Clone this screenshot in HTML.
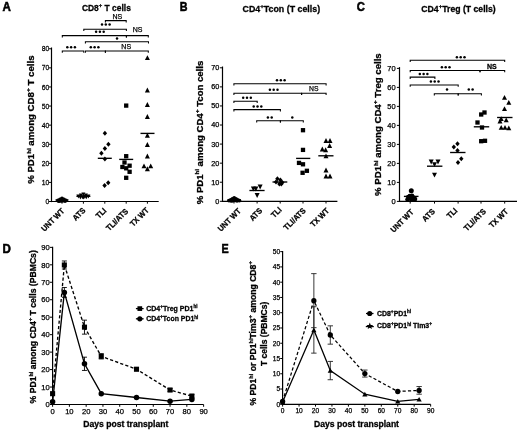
<!DOCTYPE html>
<html><head><meta charset="utf-8"><style>
html,body{margin:0;padding:0;background:#fff;width:520px;height:432px;overflow:hidden}
svg{display:block;filter:blur(0.3px)}
text{font-family:"Liberation Sans", sans-serif;fill:#000}
</style></head><body>
<svg width="520" height="432" viewBox="0 0 520 432">
<rect width="520" height="432" fill="#fff"/>
<text x="0" y="0" font-size="12.2" font-weight="bold" text-anchor="start" transform="translate(2.4 10.9) scale(0.95 1)" stroke="#000" stroke-width="0.55">A</text>
<line x1="51.5" y1="47.48" x2="51.5" y2="202.1" stroke="#000" stroke-width="1.2"/>
<line x1="50.9" y1="201.5" x2="158.7" y2="201.5" stroke="#000" stroke-width="1.2"/>
<line x1="48.9" y1="201.5" x2="51.5" y2="201.5" stroke="#000" stroke-width="1"/>
<text x="0" y="0" font-size="7.8" font-weight="normal" text-anchor="end" transform="translate(49.3 204.07) scale(0.87 1)" stroke="#000" stroke-width="0.25">0</text>
<line x1="48.9" y1="182.41" x2="51.5" y2="182.41" stroke="#000" stroke-width="1"/>
<text x="0" y="0" font-size="7.8" font-weight="normal" text-anchor="end" transform="translate(49.3 184.98) scale(0.87 1)" stroke="#000" stroke-width="0.25">10</text>
<line x1="48.9" y1="163.32" x2="51.5" y2="163.32" stroke="#000" stroke-width="1"/>
<text x="0" y="0" font-size="7.8" font-weight="normal" text-anchor="end" transform="translate(49.3 165.89) scale(0.87 1)" stroke="#000" stroke-width="0.25">20</text>
<line x1="48.9" y1="144.23" x2="51.5" y2="144.23" stroke="#000" stroke-width="1"/>
<text x="0" y="0" font-size="7.8" font-weight="normal" text-anchor="end" transform="translate(49.3 146.8) scale(0.87 1)" stroke="#000" stroke-width="0.25">30</text>
<line x1="48.9" y1="125.14" x2="51.5" y2="125.14" stroke="#000" stroke-width="1"/>
<text x="0" y="0" font-size="7.8" font-weight="normal" text-anchor="end" transform="translate(49.3 127.71) scale(0.87 1)" stroke="#000" stroke-width="0.25">40</text>
<line x1="48.9" y1="106.05" x2="51.5" y2="106.05" stroke="#000" stroke-width="1"/>
<text x="0" y="0" font-size="7.8" font-weight="normal" text-anchor="end" transform="translate(49.3 108.62) scale(0.87 1)" stroke="#000" stroke-width="0.25">50</text>
<line x1="48.9" y1="86.96" x2="51.5" y2="86.96" stroke="#000" stroke-width="1"/>
<text x="0" y="0" font-size="7.8" font-weight="normal" text-anchor="end" transform="translate(49.3 89.53) scale(0.87 1)" stroke="#000" stroke-width="0.25">60</text>
<line x1="48.9" y1="67.87" x2="51.5" y2="67.87" stroke="#000" stroke-width="1"/>
<text x="0" y="0" font-size="7.8" font-weight="normal" text-anchor="end" transform="translate(49.3 70.44) scale(0.87 1)" stroke="#000" stroke-width="0.25">70</text>
<line x1="48.9" y1="48.78" x2="51.5" y2="48.78" stroke="#000" stroke-width="1"/>
<text x="0" y="0" font-size="7.8" font-weight="normal" text-anchor="end" transform="translate(49.3 51.35) scale(0.87 1)" stroke="#000" stroke-width="0.25">80</text>
<line x1="62" y1="201.5" x2="62" y2="203.7" stroke="#000" stroke-width="1"/>
<line x1="83.4" y1="201.5" x2="83.4" y2="203.7" stroke="#000" stroke-width="1"/>
<line x1="104.8" y1="201.5" x2="104.8" y2="203.7" stroke="#000" stroke-width="1"/>
<line x1="126.2" y1="201.5" x2="126.2" y2="203.7" stroke="#000" stroke-width="1"/>
<line x1="147.4" y1="201.5" x2="147.4" y2="203.7" stroke="#000" stroke-width="1"/>
<text x="0" y="0" font-size="8" font-weight="bold" text-anchor="end" transform="translate(65 211.5) rotate(-45) scale(0.93 1)" stroke="#000" stroke-width="0.28">UNT WT</text>
<text x="0" y="0" font-size="8" font-weight="bold" text-anchor="end" transform="translate(86 211) rotate(-45) scale(0.93 1)" stroke="#000" stroke-width="0.28">ATS</text>
<text x="0" y="0" font-size="8" font-weight="bold" text-anchor="end" transform="translate(107 211.2) rotate(-45) scale(0.93 1)" stroke="#000" stroke-width="0.28">TLI</text>
<text x="0" y="0" font-size="8" font-weight="bold" text-anchor="end" transform="translate(128.7 211.9) rotate(-45) scale(0.93 1)" stroke="#000" stroke-width="0.28">TLI/ATS</text>
<text x="0" y="0" font-size="8" font-weight="bold" text-anchor="end" transform="translate(149.5 210.7) rotate(-45) scale(0.93 1)" stroke="#000" stroke-width="0.28">TX WT</text>
<text x="0" y="0" font-size="8.4" font-weight="bold" text-anchor="middle" transform="translate(33.9 119.65) rotate(-90)" textLength="128.3" lengthAdjust="spacingAndGlyphs" stroke="#000" stroke-width="0.28">% PD1<tspan dy="-3.36" font-size="5.38">hi</tspan><tspan dy="3.36"> among CD8</tspan><tspan dy="-3.86" font-size="5.88">+</tspan><tspan dy="3.86"> T cells</tspan></text>
<text x="106.4" y="10.6" font-size="8.9" font-weight="bold" text-anchor="middle" textLength="49" lengthAdjust="spacingAndGlyphs" stroke="#000" stroke-width="0.28">CD8<tspan dy="-4.09" font-size="6.23">+</tspan><tspan dy="4.09"> T cells</tspan></text>
<path d="M105.4 22.4V20.6H126.2V22.4" fill="none" stroke="#000" stroke-width="1.05"/>
<text x="117.3" y="18.5" font-size="7" font-weight="normal" text-anchor="middle" stroke="#000" stroke-width="0.25">NS</text>
<path d="M83.8 31V29.2H126.4V31" fill="none" stroke="#000" stroke-width="1.05"/>
<circle cx="102" cy="24.6" r="1.25"/>
<circle cx="105.8" cy="24.6" r="1.25"/>
<circle cx="109.6" cy="24.6" r="1.25"/>
<path d="M62.3 37.4V35.6H126.4V37.4" fill="none" stroke="#000" stroke-width="1.05"/>
<circle cx="96.1" cy="31.8" r="1.25"/>
<circle cx="99.9" cy="31.8" r="1.25"/>
<circle cx="103.7" cy="31.8" r="1.25"/>
<path d="M126.4 37.4V35.6H148.3V37.4" fill="none" stroke="#000" stroke-width="1.05"/>
<text x="137.6" y="32.2" font-size="7" font-weight="normal" text-anchor="middle" stroke="#000" stroke-width="0.25">NS</text>
<path d="M85.4 43.6V41.8H148.5V43.6" fill="none" stroke="#000" stroke-width="1.05"/>
<circle cx="117" cy="38.6" r="1.25"/>
<path d="M62.3 52.8V51H83.8V52.8" fill="none" stroke="#000" stroke-width="1.05"/>
<circle cx="67.3" cy="47.3" r="1.25"/>
<circle cx="71.1" cy="47.3" r="1.25"/>
<circle cx="74.9" cy="47.3" r="1.25"/>
<path d="M85.4 52.8V51H105.4V52.8" fill="none" stroke="#000" stroke-width="1.05"/>
<circle cx="90.8" cy="47.3" r="1.25"/>
<circle cx="94.6" cy="47.3" r="1.25"/>
<circle cx="98.4" cy="47.3" r="1.25"/>
<path d="M105.4 52.8V51H148.3V52.8" fill="none" stroke="#000" stroke-width="1.05"/>
<text x="126.2" y="49.2" font-size="7" font-weight="normal" text-anchor="middle" stroke="#000" stroke-width="0.25">NS</text>
<circle cx="58" cy="200.5" r="1.9"/>
<circle cx="60" cy="199.5" r="1.9"/>
<circle cx="62" cy="198.5" r="1.9"/>
<circle cx="64" cy="199.5" r="1.9"/>
<circle cx="66" cy="200.3" r="1.9"/>
<circle cx="61" cy="200.8" r="1.9"/>
<circle cx="63" cy="200.6" r="1.9"/>
<circle cx="65" cy="201" r="1.9"/>
<circle cx="59" cy="201.2" r="1.9"/>
<circle cx="62" cy="200.5" r="1.9"/>
<line x1="55.5" y1="200" x2="68.5" y2="200" stroke="#000" stroke-width="1.35"/>
<path d="M78.4 198.4L80.4 194.5L76.4 194.5Z"/>
<path d="M80.9 197.4L82.9 193.5L78.9 193.5Z"/>
<path d="M83.4 196.4L85.4 192.5L81.4 192.5Z"/>
<path d="M85.9 197.4L87.9 193.5L83.9 193.5Z"/>
<path d="M88.4 198.4L90.4 194.5L86.4 194.5Z"/>
<path d="M82.4 199.2L84.4 195.3L80.4 195.3Z"/>
<path d="M84.9 199L86.9 195.1L82.9 195.1Z"/>
<path d="M83.4 199.6L85.4 195.7L81.4 195.7Z"/>
<path d="M80.4 199.4L82.4 195.5L78.4 195.5Z"/>
<path d="M86.4 199.2L88.4 195.3L84.4 195.3Z"/>
<line x1="76.4" y1="196.3" x2="90.4" y2="196.3" stroke="#000" stroke-width="1.35"/>
<path d="M104.9 130.8L107.1 133.3L104.9 135.8L102.7 133.3Z"/>
<path d="M108.4 141.8L110.6 144.3L108.4 146.8L106.2 144.3Z"/>
<path d="M104.9 146L107.1 148.5L104.9 151L102.7 148.5Z"/>
<path d="M101.4 150.7L103.6 153.2L101.4 155.7L99.2 153.2Z"/>
<path d="M104.9 156.6L107.1 159.1L104.9 161.6L102.7 159.1Z"/>
<path d="M108.2 180.3L110.4 182.8L108.2 185.3L106 182.8Z"/>
<path d="M104.6 183.1L106.8 185.6L104.6 188.1L102.4 185.6Z"/>
<line x1="97.8" y1="158.3" x2="111.8" y2="158.3" stroke="#000" stroke-width="1.35"/>
<rect x="124.05" y="103.45" width="4.3" height="4.3"/>
<rect x="124.05" y="154.05" width="4.3" height="4.3"/>
<rect x="122.35" y="160.35" width="4.3" height="4.3"/>
<rect x="127.45" y="163.55" width="4.3" height="4.3"/>
<rect x="120.25" y="164.85" width="4.3" height="4.3"/>
<rect x="124.05" y="166.15" width="4.3" height="4.3"/>
<rect x="127.45" y="169.65" width="4.3" height="4.3"/>
<rect x="124.05" y="175.65" width="4.3" height="4.3"/>
<line x1="119.2" y1="159.4" x2="133.2" y2="159.4" stroke="#000" stroke-width="1.35"/>
<path d="M147.4 55.2L149.9 60.1L144.9 60.1Z"/>
<path d="M147.4 87.6L149.9 92.5L144.9 92.5Z"/>
<path d="M147.4 102L149.9 106.9L144.9 106.9Z"/>
<path d="M147.4 114L149.9 118.9L144.9 118.9Z"/>
<path d="M147.4 132.8L149.9 137.7L144.9 137.7Z"/>
<path d="M147.4 142.1L149.9 147L144.9 147Z"/>
<path d="M147.4 153.6L149.9 158.5L144.9 158.5Z"/>
<path d="M144 163.4L146.5 168.3L141.5 168.3Z"/>
<path d="M150.7 163.4L153.2 168.3L148.2 168.3Z"/>
<path d="M147.4 166.3L149.9 171.2L144.9 171.2Z"/>
<line x1="140.5" y1="133.4" x2="154.5" y2="133.4" stroke="#000" stroke-width="1.35"/>
<text x="0" y="0" font-size="12.2" font-weight="bold" text-anchor="start" transform="translate(179.8 10.9) scale(0.88 1)" stroke="#000" stroke-width="0.55">B</text>
<line x1="222.5" y1="66.51" x2="222.5" y2="201.9" stroke="#000" stroke-width="1.2"/>
<line x1="221.9" y1="201.3" x2="337.4" y2="201.3" stroke="#000" stroke-width="1.2"/>
<line x1="219.9" y1="201.3" x2="222.5" y2="201.3" stroke="#000" stroke-width="1"/>
<text x="0" y="0" font-size="7.3" font-weight="normal" text-anchor="end" transform="translate(219.4 203.71) scale(1 1)" stroke="#000" stroke-width="0.25">0</text>
<line x1="219.9" y1="182.23" x2="222.5" y2="182.23" stroke="#000" stroke-width="1"/>
<text x="0" y="0" font-size="7.3" font-weight="normal" text-anchor="end" transform="translate(219.4 184.64) scale(1 1)" stroke="#000" stroke-width="0.25">10</text>
<line x1="219.9" y1="163.16" x2="222.5" y2="163.16" stroke="#000" stroke-width="1"/>
<text x="0" y="0" font-size="7.3" font-weight="normal" text-anchor="end" transform="translate(219.4 165.57) scale(1 1)" stroke="#000" stroke-width="0.25">20</text>
<line x1="219.9" y1="144.09" x2="222.5" y2="144.09" stroke="#000" stroke-width="1"/>
<text x="0" y="0" font-size="7.3" font-weight="normal" text-anchor="end" transform="translate(219.4 146.5) scale(1 1)" stroke="#000" stroke-width="0.25">30</text>
<line x1="219.9" y1="125.02" x2="222.5" y2="125.02" stroke="#000" stroke-width="1"/>
<text x="0" y="0" font-size="7.3" font-weight="normal" text-anchor="end" transform="translate(219.4 127.43) scale(1 1)" stroke="#000" stroke-width="0.25">40</text>
<line x1="219.9" y1="105.95" x2="222.5" y2="105.95" stroke="#000" stroke-width="1"/>
<text x="0" y="0" font-size="7.3" font-weight="normal" text-anchor="end" transform="translate(219.4 108.36) scale(1 1)" stroke="#000" stroke-width="0.25">50</text>
<line x1="219.9" y1="86.88" x2="222.5" y2="86.88" stroke="#000" stroke-width="1"/>
<text x="0" y="0" font-size="7.3" font-weight="normal" text-anchor="end" transform="translate(219.4 89.29) scale(1 1)" stroke="#000" stroke-width="0.25">60</text>
<line x1="219.9" y1="67.81" x2="222.5" y2="67.81" stroke="#000" stroke-width="1"/>
<text x="0" y="0" font-size="7.3" font-weight="normal" text-anchor="end" transform="translate(219.4 70.22) scale(1 1)" stroke="#000" stroke-width="0.25">70</text>
<line x1="234" y1="201.3" x2="234" y2="203.5" stroke="#000" stroke-width="1"/>
<line x1="257.1" y1="201.3" x2="257.1" y2="203.5" stroke="#000" stroke-width="1"/>
<line x1="280.2" y1="201.3" x2="280.2" y2="203.5" stroke="#000" stroke-width="1"/>
<line x1="303" y1="201.3" x2="303" y2="203.5" stroke="#000" stroke-width="1"/>
<line x1="326" y1="201.3" x2="326" y2="203.5" stroke="#000" stroke-width="1"/>
<text x="0" y="0" font-size="8" font-weight="bold" text-anchor="end" transform="translate(241.5 211.6) rotate(-45) scale(0.93 1)" stroke="#000" stroke-width="0.28">UNT WT</text>
<text x="0" y="0" font-size="8" font-weight="bold" text-anchor="end" transform="translate(262.8 211.3) rotate(-45) scale(0.93 1)" stroke="#000" stroke-width="0.28">ATS</text>
<text x="0" y="0" font-size="8" font-weight="bold" text-anchor="end" transform="translate(282.2 210.4) rotate(-45) scale(0.93 1)" stroke="#000" stroke-width="0.28">TLI</text>
<text x="0" y="0" font-size="8" font-weight="bold" text-anchor="end" transform="translate(306.3 211.2) rotate(-45) scale(0.93 1)" stroke="#000" stroke-width="0.28">TLI/ATS</text>
<text x="0" y="0" font-size="8" font-weight="bold" text-anchor="end" transform="translate(329.8 211.2) rotate(-45) scale(0.93 1)" stroke="#000" stroke-width="0.28">TX WT</text>
<text x="0" y="0" font-size="8.4" font-weight="bold" text-anchor="middle" transform="translate(202.6 132.5) rotate(-90)" textLength="143.5" lengthAdjust="spacingAndGlyphs" stroke="#000" stroke-width="0.28">% PD1<tspan dy="-3.36" font-size="5.38">hi</tspan><tspan dy="3.36"> among CD4</tspan><tspan dy="-3.86" font-size="5.88">+</tspan><tspan dy="3.86"> Tcon cells</tspan></text>
<text x="281.3" y="11.8" font-size="8.8" font-weight="bold" text-anchor="middle" textLength="77.6" lengthAdjust="spacingAndGlyphs" stroke="#000" stroke-width="0.28">CD4<tspan dy="-4.05" font-size="6.16">+</tspan><tspan dy="4.05">Tcon (T cells)</tspan></text>
<path d="M233.9 85.6V83.8H326.1V85.6" fill="none" stroke="#000" stroke-width="1.05"/>
<circle cx="277" cy="80.2" r="1.25"/>
<circle cx="280.8" cy="80.2" r="1.25"/>
<circle cx="284.6" cy="80.2" r="1.25"/>
<path d="M233.9 95.1V93.3H301.6V95.1" fill="none" stroke="#000" stroke-width="1.05"/>
<circle cx="269.9" cy="89.8" r="1.25"/>
<circle cx="273.7" cy="89.8" r="1.25"/>
<circle cx="277.5" cy="89.8" r="1.25"/>
<path d="M301.6 95.1V93.3H326.1V95.1" fill="none" stroke="#000" stroke-width="1.05"/>
<text x="313.8" y="91.4" font-size="6.8" font-weight="normal" text-anchor="middle" stroke="#000" stroke-width="0.25">NS</text>
<path d="M233.9 103.1V101.3H257.2V103.1" fill="none" stroke="#000" stroke-width="1.05"/>
<circle cx="243.2" cy="97.8" r="1.25"/>
<circle cx="247" cy="97.8" r="1.25"/>
<circle cx="250.8" cy="97.8" r="1.25"/>
<path d="M233.9 111.4V109.6H280.4V111.4" fill="none" stroke="#000" stroke-width="1.05"/>
<circle cx="253.7" cy="106.4" r="1.25"/>
<circle cx="257.5" cy="106.4" r="1.25"/>
<circle cx="261.3" cy="106.4" r="1.25"/>
<path d="M256.7 122.6V120.8H280.4V122.6" fill="none" stroke="#000" stroke-width="1.05"/>
<circle cx="267.9" cy="117.4" r="1.25"/>
<circle cx="271.7" cy="117.4" r="1.25"/>
<path d="M280.4 122.6V120.8H303.3V122.6" fill="none" stroke="#000" stroke-width="1.05"/>
<circle cx="292.3" cy="117.4" r="1.25"/>
<circle cx="229" cy="200.6" r="1.9"/>
<circle cx="230.7" cy="199.9" r="1.9"/>
<circle cx="232.4" cy="199" r="1.9"/>
<circle cx="234.2" cy="198" r="1.9"/>
<circle cx="236" cy="199" r="1.9"/>
<circle cx="237.7" cy="199.9" r="1.9"/>
<circle cx="239.4" cy="200.6" r="1.9"/>
<circle cx="233.2" cy="200.5" r="1.9"/>
<circle cx="235.2" cy="200.3" r="1.9"/>
<circle cx="237" cy="200.8" r="1.9"/>
<circle cx="231.4" cy="200.9" r="1.9"/>
<circle cx="234.2" cy="200.2" r="1.9"/>
<line x1="227.6" y1="199.9" x2="240.8" y2="199.9" stroke="#000" stroke-width="1.35"/>
<path d="M253.4 191.5L255.9 186.6L250.9 186.6Z"/>
<path d="M255.9 191.5L258.4 186.6L253.4 186.6Z"/>
<path d="M260.1 189.5L262.6 184.6L257.6 184.6Z"/>
<path d="M257.1 198L259.6 193.1L254.6 193.1Z"/>
<line x1="249.4" y1="190.5" x2="264.6" y2="190.5" stroke="#000" stroke-width="1.35"/>
<path d="M277.4 176.2L279.6 178.7L277.4 181.2L275.2 178.7Z"/>
<path d="M280.4 177.5L282.6 180L280.4 182.5L278.2 180Z"/>
<path d="M282.3 180.1L284.5 182.6L282.3 185.1L280.1 182.6Z"/>
<path d="M279.4 181.5L281.6 184L279.4 186.5L277.2 184Z"/>
<path d="M281.3 181.5L283.5 184L281.3 186.5L279.1 184Z"/>
<path d="M276 179.5L278.2 182L276 184.5L273.8 182Z"/>
<line x1="272.5" y1="182" x2="287.3" y2="182" stroke="#000" stroke-width="1.35"/>
<rect x="300.85" y="128.05" width="4.3" height="4.3"/>
<rect x="300.85" y="147.75" width="4.3" height="4.3"/>
<rect x="296.85" y="160.75" width="4.3" height="4.3"/>
<rect x="300.85" y="162.15" width="4.3" height="4.3"/>
<rect x="304.75" y="168.65" width="4.3" height="4.3"/>
<rect x="300.45" y="170.65" width="4.3" height="4.3"/>
<line x1="296.1" y1="158.4" x2="310.3" y2="158.4" stroke="#000" stroke-width="1.35"/>
<path d="M326 138.1L328.5 143L323.5 143Z"/>
<path d="M330 138.1L332.5 143L327.5 143Z"/>
<path d="M329.6 143L332.1 147.9L327.1 147.9Z"/>
<path d="M322.3 146.5L324.8 151.4L319.8 151.4Z"/>
<path d="M325.6 147.3L328.1 152.2L323.1 152.2Z"/>
<path d="M326 153.4L328.5 158.3L323.5 158.3Z"/>
<path d="M326 167.6L328.5 172.5L323.5 172.5Z"/>
<path d="M326 173.5L328.5 178.4L323.5 178.4Z"/>
<path d="M330 173.5L332.5 178.4L327.5 178.4Z"/>
<line x1="318.3" y1="155.8" x2="333.5" y2="155.8" stroke="#000" stroke-width="1.35"/>
<text x="0" y="0" font-size="12.2" font-weight="bold" text-anchor="start" transform="translate(356.8 11.3) scale(0.92 1)" stroke="#000" stroke-width="0.55">C</text>
<line x1="399.5" y1="67.1" x2="399.5" y2="202" stroke="#000" stroke-width="1.2"/>
<line x1="398.9" y1="201.4" x2="517" y2="201.4" stroke="#000" stroke-width="1.2"/>
<line x1="396.9" y1="201.4" x2="399.5" y2="201.4" stroke="#000" stroke-width="1"/>
<text x="0" y="0" font-size="7.5" font-weight="normal" text-anchor="end" transform="translate(395.7 203.88) scale(1 1)" stroke="#000" stroke-width="0.25">0</text>
<line x1="396.9" y1="182.4" x2="399.5" y2="182.4" stroke="#000" stroke-width="1"/>
<text x="0" y="0" font-size="7.5" font-weight="normal" text-anchor="end" transform="translate(395.7 184.88) scale(1 1)" stroke="#000" stroke-width="0.25">10</text>
<line x1="396.9" y1="163.4" x2="399.5" y2="163.4" stroke="#000" stroke-width="1"/>
<text x="0" y="0" font-size="7.5" font-weight="normal" text-anchor="end" transform="translate(395.7 165.88) scale(1 1)" stroke="#000" stroke-width="0.25">20</text>
<line x1="396.9" y1="144.4" x2="399.5" y2="144.4" stroke="#000" stroke-width="1"/>
<text x="0" y="0" font-size="7.5" font-weight="normal" text-anchor="end" transform="translate(395.7 146.88) scale(1 1)" stroke="#000" stroke-width="0.25">30</text>
<line x1="396.9" y1="125.4" x2="399.5" y2="125.4" stroke="#000" stroke-width="1"/>
<text x="0" y="0" font-size="7.5" font-weight="normal" text-anchor="end" transform="translate(395.7 127.88) scale(1 1)" stroke="#000" stroke-width="0.25">40</text>
<line x1="396.9" y1="106.4" x2="399.5" y2="106.4" stroke="#000" stroke-width="1"/>
<text x="0" y="0" font-size="7.5" font-weight="normal" text-anchor="end" transform="translate(395.7 108.88) scale(1 1)" stroke="#000" stroke-width="0.25">50</text>
<line x1="396.9" y1="87.4" x2="399.5" y2="87.4" stroke="#000" stroke-width="1"/>
<text x="0" y="0" font-size="7.5" font-weight="normal" text-anchor="end" transform="translate(395.7 89.88) scale(1 1)" stroke="#000" stroke-width="0.25">60</text>
<line x1="396.9" y1="68.4" x2="399.5" y2="68.4" stroke="#000" stroke-width="1"/>
<text x="0" y="0" font-size="7.5" font-weight="normal" text-anchor="end" transform="translate(395.7 70.88) scale(1 1)" stroke="#000" stroke-width="0.25">70</text>
<line x1="410.2" y1="201.4" x2="410.2" y2="203.6" stroke="#000" stroke-width="1"/>
<line x1="434.5" y1="201.4" x2="434.5" y2="203.6" stroke="#000" stroke-width="1"/>
<line x1="458.1" y1="201.4" x2="458.1" y2="203.6" stroke="#000" stroke-width="1"/>
<line x1="481" y1="201.4" x2="481" y2="203.6" stroke="#000" stroke-width="1"/>
<line x1="504.7" y1="201.4" x2="504.7" y2="203.6" stroke="#000" stroke-width="1"/>
<text x="0" y="0" font-size="8" font-weight="bold" text-anchor="end" transform="translate(414.3 212.6) rotate(-45) scale(0.93 1)" stroke="#000" stroke-width="0.28">UNT WT</text>
<text x="0" y="0" font-size="8" font-weight="bold" text-anchor="end" transform="translate(435.5 212) rotate(-45) scale(0.93 1)" stroke="#000" stroke-width="0.28">ATS</text>
<text x="0" y="0" font-size="8" font-weight="bold" text-anchor="end" transform="translate(457.9 211.2) rotate(-45) scale(0.93 1)" stroke="#000" stroke-width="0.28">TLI</text>
<text x="0" y="0" font-size="8" font-weight="bold" text-anchor="end" transform="translate(486.4 212) rotate(-45) scale(0.93 1)" stroke="#000" stroke-width="0.28">TLI/ATS</text>
<text x="0" y="0" font-size="8" font-weight="bold" text-anchor="end" transform="translate(508.7 212) rotate(-45) scale(0.93 1)" stroke="#000" stroke-width="0.28">TX WT</text>
<text x="0" y="0" font-size="8.4" font-weight="bold" text-anchor="middle" transform="translate(381.1 124.6) rotate(-90)" textLength="142.6" lengthAdjust="spacingAndGlyphs" stroke="#000" stroke-width="0.28">% PD1<tspan dy="-3.36" font-size="5.38">hi</tspan><tspan dy="3.36"> among CD4</tspan><tspan dy="-3.86" font-size="5.88">+</tspan><tspan dy="3.86"> Treg cells</tspan></text>
<text x="458.5" y="11.8" font-size="8.6" font-weight="bold" text-anchor="middle" textLength="74.4" lengthAdjust="spacingAndGlyphs" stroke="#000" stroke-width="0.28">CD4<tspan dy="-3.96" font-size="6.02">+</tspan><tspan dy="3.96">Treg (T cells)</tspan></text>
<path d="M410.2 62V60.2H504.7V62" fill="none" stroke="#000" stroke-width="1.05"/>
<circle cx="456.9" cy="57.2" r="1.25"/>
<circle cx="460.7" cy="57.2" r="1.25"/>
<circle cx="464.5" cy="57.2" r="1.25"/>
<path d="M410.2 72.3V70.5H480V72.3" fill="none" stroke="#000" stroke-width="1.05"/>
<circle cx="441.9" cy="67.2" r="1.25"/>
<circle cx="445.7" cy="67.2" r="1.25"/>
<circle cx="449.5" cy="67.2" r="1.25"/>
<path d="M480 72.3V70.5H504.7V72.3" fill="none" stroke="#000" stroke-width="1.05"/>
<text x="491.8" y="68.6" font-size="7" font-weight="bold" text-anchor="middle" stroke="#000" stroke-width="0.28">NS</text>
<path d="M410.2 78.9V77.1H434.9V78.9" fill="none" stroke="#000" stroke-width="1.05"/>
<circle cx="419.8" cy="74" r="1.25"/>
<circle cx="423.6" cy="74" r="1.25"/>
<circle cx="427.4" cy="74" r="1.25"/>
<path d="M410.2 86.7V84.9H458.2V86.7" fill="none" stroke="#000" stroke-width="1.05"/>
<circle cx="430.9" cy="81.6" r="1.25"/>
<circle cx="434.7" cy="81.6" r="1.25"/>
<circle cx="438.5" cy="81.6" r="1.25"/>
<path d="M434.3 95.6V93.8H458.2V95.6" fill="none" stroke="#000" stroke-width="1.05"/>
<circle cx="447" cy="89.4" r="1.25"/>
<path d="M458.2 95.6V93.8H481.4V95.6" fill="none" stroke="#000" stroke-width="1.05"/>
<circle cx="468.8" cy="89.4" r="1.25"/>
<circle cx="472.6" cy="89.4" r="1.25"/>
<circle cx="411.3" cy="190.7" r="2.5"/>
<circle cx="408.3" cy="197" r="2.3"/>
<circle cx="410.8" cy="198.5" r="2.3"/>
<circle cx="413.3" cy="197.5" r="2.3"/>
<circle cx="415" cy="199" r="2.3"/>
<circle cx="407.5" cy="199.5" r="2.3"/>
<circle cx="411.3" cy="199.6" r="2.3"/>
<circle cx="414.3" cy="199.8" r="2.3"/>
<circle cx="409.8" cy="196" r="2.3"/>
<circle cx="412" cy="195.8" r="2.3"/>
<line x1="403.9" y1="196.4" x2="418.5" y2="196.4" stroke="#000" stroke-width="1.35"/>
<path d="M431.2 164.4L433.7 159.5L428.7 159.5Z"/>
<path d="M438 164.4L440.5 159.5L435.5 159.5Z"/>
<path d="M434.5 167.1L437 162.2L432 162.2Z"/>
<path d="M434.5 177.6L437 172.7L432 172.7Z"/>
<line x1="427" y1="166.2" x2="442.4" y2="166.2" stroke="#000" stroke-width="1.35"/>
<path d="M457.5 141.3L459.7 143.8L457.5 146.3L455.3 143.8Z"/>
<path d="M453.8 144.5L456 147L453.8 149.5L451.6 147Z"/>
<path d="M457.5 148L459.7 150.5L457.5 153L455.3 150.5Z"/>
<path d="M461.3 156.3L463.5 158.8L461.3 161.3L459.1 158.8Z"/>
<path d="M458 160L460.2 162.5L458 165L455.8 162.5Z"/>
<line x1="450.1" y1="152.5" x2="465.5" y2="152.5" stroke="#000" stroke-width="1.35"/>
<rect x="482.35" y="110.35" width="4.3" height="4.3"/>
<rect x="479.05" y="112.35" width="4.3" height="4.3"/>
<rect x="475.35" y="120.35" width="4.3" height="4.3"/>
<rect x="479.85" y="125.35" width="4.3" height="4.3"/>
<rect x="479.05" y="139.05" width="4.3" height="4.3"/>
<rect x="482.85" y="138.65" width="4.3" height="4.3"/>
<line x1="473.8" y1="126.8" x2="489.2" y2="126.8" stroke="#000" stroke-width="1.35"/>
<path d="M504.5 94.9L507 99.8L502 99.8Z"/>
<path d="M508.8 99.9L511.3 104.8L506.3 104.8Z"/>
<path d="M504.5 106.2L507 111.1L502 111.1Z"/>
<path d="M501.2 116.2L503.7 121.1L498.7 121.1Z"/>
<path d="M506.2 117.4L508.7 122.3L503.7 122.3Z"/>
<path d="M500 118.6L502.5 123.5L497.5 123.5Z"/>
<path d="M501.2 124.9L503.7 129.8L498.7 129.8Z"/>
<path d="M505 124.9L507.5 129.8L502.5 129.8Z"/>
<path d="M508.8 125.4L511.3 130.3L506.3 130.3Z"/>
<line x1="497.1" y1="117.5" x2="512.5" y2="117.5" stroke="#000" stroke-width="1.35"/>
<text x="0" y="0" font-size="12.2" font-weight="bold" text-anchor="start" transform="translate(2.4 253.4) scale(0.95 1)" stroke="#000" stroke-width="0.55">D</text>
<line x1="52.6" y1="246.76" x2="52.6" y2="405.1" stroke="#000" stroke-width="1.2"/>
<line x1="52" y1="404.5" x2="203.62" y2="404.5" stroke="#000" stroke-width="1.2"/>
<line x1="50" y1="404.5" x2="52.6" y2="404.5" stroke="#000" stroke-width="1"/>
<text x="49.8" y="407.2" font-size="7.6" font-weight="normal" text-anchor="end" stroke="#000" stroke-width="0.25">0</text>
<line x1="50" y1="387.04" x2="52.6" y2="387.04" stroke="#000" stroke-width="1"/>
<text x="49.8" y="389.74" font-size="7.6" font-weight="normal" text-anchor="end" stroke="#000" stroke-width="0.25">10</text>
<line x1="50" y1="369.58" x2="52.6" y2="369.58" stroke="#000" stroke-width="1"/>
<text x="49.8" y="372.28" font-size="7.6" font-weight="normal" text-anchor="end" stroke="#000" stroke-width="0.25">20</text>
<line x1="50" y1="352.12" x2="52.6" y2="352.12" stroke="#000" stroke-width="1"/>
<text x="49.8" y="354.82" font-size="7.6" font-weight="normal" text-anchor="end" stroke="#000" stroke-width="0.25">30</text>
<line x1="50" y1="334.66" x2="52.6" y2="334.66" stroke="#000" stroke-width="1"/>
<text x="49.8" y="337.36" font-size="7.6" font-weight="normal" text-anchor="end" stroke="#000" stroke-width="0.25">40</text>
<line x1="50" y1="317.2" x2="52.6" y2="317.2" stroke="#000" stroke-width="1"/>
<text x="49.8" y="319.9" font-size="7.6" font-weight="normal" text-anchor="end" stroke="#000" stroke-width="0.25">50</text>
<line x1="50" y1="299.74" x2="52.6" y2="299.74" stroke="#000" stroke-width="1"/>
<text x="49.8" y="302.44" font-size="7.6" font-weight="normal" text-anchor="end" stroke="#000" stroke-width="0.25">60</text>
<line x1="50" y1="282.28" x2="52.6" y2="282.28" stroke="#000" stroke-width="1"/>
<text x="49.8" y="284.98" font-size="7.6" font-weight="normal" text-anchor="end" stroke="#000" stroke-width="0.25">70</text>
<line x1="50" y1="264.82" x2="52.6" y2="264.82" stroke="#000" stroke-width="1"/>
<text x="49.8" y="267.52" font-size="7.6" font-weight="normal" text-anchor="end" stroke="#000" stroke-width="0.25">80</text>
<line x1="50" y1="247.36" x2="52.6" y2="247.36" stroke="#000" stroke-width="1"/>
<text x="49.8" y="250.06" font-size="7.6" font-weight="normal" text-anchor="end" stroke="#000" stroke-width="0.25">90</text>
<line x1="52.6" y1="404.5" x2="52.6" y2="406.8" stroke="#000" stroke-width="1"/>
<text x="52.6" y="414.1" font-size="7.6" font-weight="normal" text-anchor="middle" stroke="#000" stroke-width="0.25">0</text>
<line x1="69.38" y1="404.5" x2="69.38" y2="406.8" stroke="#000" stroke-width="1"/>
<text x="69.38" y="414.1" font-size="7.6" font-weight="normal" text-anchor="middle" stroke="#000" stroke-width="0.25">10</text>
<line x1="86.16" y1="404.5" x2="86.16" y2="406.8" stroke="#000" stroke-width="1"/>
<text x="86.16" y="414.1" font-size="7.6" font-weight="normal" text-anchor="middle" stroke="#000" stroke-width="0.25">20</text>
<line x1="102.94" y1="404.5" x2="102.94" y2="406.8" stroke="#000" stroke-width="1"/>
<text x="102.94" y="414.1" font-size="7.6" font-weight="normal" text-anchor="middle" stroke="#000" stroke-width="0.25">30</text>
<line x1="119.72" y1="404.5" x2="119.72" y2="406.8" stroke="#000" stroke-width="1"/>
<text x="119.72" y="414.1" font-size="7.6" font-weight="normal" text-anchor="middle" stroke="#000" stroke-width="0.25">40</text>
<line x1="136.5" y1="404.5" x2="136.5" y2="406.8" stroke="#000" stroke-width="1"/>
<text x="136.5" y="414.1" font-size="7.6" font-weight="normal" text-anchor="middle" stroke="#000" stroke-width="0.25">50</text>
<line x1="153.28" y1="404.5" x2="153.28" y2="406.8" stroke="#000" stroke-width="1"/>
<text x="153.28" y="414.1" font-size="7.6" font-weight="normal" text-anchor="middle" stroke="#000" stroke-width="0.25">60</text>
<line x1="170.06" y1="404.5" x2="170.06" y2="406.8" stroke="#000" stroke-width="1"/>
<text x="170.06" y="414.1" font-size="7.6" font-weight="normal" text-anchor="middle" stroke="#000" stroke-width="0.25">70</text>
<line x1="186.84" y1="404.5" x2="186.84" y2="406.8" stroke="#000" stroke-width="1"/>
<text x="186.84" y="414.1" font-size="7.6" font-weight="normal" text-anchor="middle" stroke="#000" stroke-width="0.25">80</text>
<line x1="203.62" y1="404.5" x2="203.62" y2="406.8" stroke="#000" stroke-width="1"/>
<text x="203.62" y="414.1" font-size="7.6" font-weight="normal" text-anchor="middle" stroke="#000" stroke-width="0.25">90</text>
<text x="125.8" y="426.6" font-size="8.6" font-weight="bold" text-anchor="middle" textLength="85" lengthAdjust="spacingAndGlyphs" stroke="#000" stroke-width="0.28">Days post transplant</text>
<text x="0" y="0" font-size="8.2" font-weight="bold" text-anchor="middle" transform="translate(35.8 326.8) rotate(-90)" textLength="153.2" lengthAdjust="spacingAndGlyphs" stroke="#000" stroke-width="0.28">% PD1<tspan dy="-3.28" font-size="5.25">hi</tspan><tspan dy="3.28"> among CD4</tspan><tspan dy="-3.77" font-size="5.74">+</tspan><tspan dy="3.77"> T cells (PBMCs)</tspan></text>
<polyline points="52.6,393.67 64.35,264.99 84.48,327.15 101.26,356.31 136.5,369.23 170.06,390.01 191.87,396.12" fill="none" stroke="#000" stroke-width="1.35" stroke-dasharray="3.2 2.2"/>
<polyline points="52.6,401.71 64.35,292.41 84.48,363.82 101.26,393.67 136.5,397.52 170.06,401.18 191.87,399.44" fill="none" stroke="#000" stroke-width="1.35"/>
<line x1="64.35" y1="260.98" x2="64.35" y2="269.01" stroke="#000" stroke-width="0.9"/>
<line x1="61.85" y1="260.98" x2="66.85" y2="260.98" stroke="#000" stroke-width="0.9"/>
<line x1="61.85" y1="269.01" x2="66.85" y2="269.01" stroke="#000" stroke-width="0.9"/>
<line x1="84.48" y1="320.17" x2="84.48" y2="334.14" stroke="#000" stroke-width="0.9"/>
<line x1="81.98" y1="320.17" x2="86.98" y2="320.17" stroke="#000" stroke-width="0.9"/>
<line x1="81.98" y1="334.14" x2="86.98" y2="334.14" stroke="#000" stroke-width="0.9"/>
<line x1="101.26" y1="353.69" x2="101.26" y2="358.93" stroke="#000" stroke-width="0.9"/>
<line x1="98.76" y1="353.69" x2="103.76" y2="353.69" stroke="#000" stroke-width="0.9"/>
<line x1="98.76" y1="358.93" x2="103.76" y2="358.93" stroke="#000" stroke-width="0.9"/>
<line x1="136.5" y1="367.83" x2="136.5" y2="370.63" stroke="#000" stroke-width="0.9"/>
<line x1="134" y1="367.83" x2="139" y2="367.83" stroke="#000" stroke-width="0.9"/>
<line x1="134" y1="370.63" x2="139" y2="370.63" stroke="#000" stroke-width="0.9"/>
<line x1="170.06" y1="388.61" x2="170.06" y2="391.4" stroke="#000" stroke-width="0.9"/>
<line x1="167.56" y1="388.61" x2="172.56" y2="388.61" stroke="#000" stroke-width="0.9"/>
<line x1="167.56" y1="391.4" x2="172.56" y2="391.4" stroke="#000" stroke-width="0.9"/>
<line x1="191.87" y1="394.37" x2="191.87" y2="397.87" stroke="#000" stroke-width="0.9"/>
<line x1="189.37" y1="394.37" x2="194.37" y2="394.37" stroke="#000" stroke-width="0.9"/>
<line x1="189.37" y1="397.87" x2="194.37" y2="397.87" stroke="#000" stroke-width="0.9"/>
<line x1="64.35" y1="287.52" x2="64.35" y2="297.3" stroke="#000" stroke-width="0.9"/>
<line x1="61.85" y1="287.52" x2="66.85" y2="287.52" stroke="#000" stroke-width="0.9"/>
<line x1="61.85" y1="297.3" x2="66.85" y2="297.3" stroke="#000" stroke-width="0.9"/>
<line x1="84.48" y1="357.18" x2="84.48" y2="370.45" stroke="#000" stroke-width="0.9"/>
<line x1="81.98" y1="357.18" x2="86.98" y2="357.18" stroke="#000" stroke-width="0.9"/>
<line x1="81.98" y1="370.45" x2="86.98" y2="370.45" stroke="#000" stroke-width="0.9"/>
<rect x="50.05" y="391.12" width="5.1" height="5.1"/>
<rect x="61.8" y="262.44" width="5.1" height="5.1"/>
<rect x="81.93" y="324.6" width="5.1" height="5.1"/>
<rect x="98.71" y="353.76" width="5.1" height="5.1"/>
<rect x="133.95" y="366.68" width="5.1" height="5.1"/>
<rect x="167.51" y="387.46" width="5.1" height="5.1"/>
<rect x="189.32" y="393.57" width="5.1" height="5.1"/>
<circle cx="52.6" cy="401.71" r="2.75"/>
<circle cx="64.35" cy="292.41" r="2.75"/>
<circle cx="84.48" cy="363.82" r="2.75"/>
<circle cx="101.26" cy="393.67" r="2.75"/>
<circle cx="136.5" cy="397.52" r="2.75"/>
<circle cx="170.06" cy="401.18" r="2.75"/>
<circle cx="191.87" cy="399.44" r="2.75"/>
<line x1="135.9" y1="308.6" x2="143.6" y2="308.6" stroke="#000" stroke-width="1.3"/>
<rect x="137.45" y="306.25" width="4.7" height="4.7"/>
<line x1="135.9" y1="318.8" x2="143.6" y2="318.8" stroke="#000" stroke-width="1.3"/>
<circle cx="139.8" cy="318.8" r="2.6"/>
<text x="146.2" y="311.1" font-size="7" font-weight="bold" text-anchor="start" textLength="51.2" lengthAdjust="spacingAndGlyphs" stroke="#000" stroke-width="0.28">CD4<tspan dy="-3.22" font-size="4.9">+</tspan><tspan dy="3.22">Treg PD1</tspan><tspan dy="-2.8" font-size="4.48">hi</tspan></text>
<text x="146.2" y="321.3" font-size="7" font-weight="bold" text-anchor="start" textLength="52" lengthAdjust="spacingAndGlyphs" stroke="#000" stroke-width="0.28">CD4<tspan dy="-3.22" font-size="4.9">+</tspan><tspan dy="3.22">Tcon PD1</tspan><tspan dy="-2.8" font-size="4.48">hi</tspan></text>
<text x="0" y="0" font-size="12.2" font-weight="bold" text-anchor="start" transform="translate(221.4 252.6) scale(0.88 1)" stroke="#000" stroke-width="0.55">E</text>
<line x1="282.6" y1="251.05" x2="282.6" y2="404.9" stroke="#000" stroke-width="1.2"/>
<line x1="282" y1="404.3" x2="430.65" y2="404.3" stroke="#000" stroke-width="1.2"/>
<line x1="280.2" y1="404.3" x2="282.6" y2="404.3" stroke="#000" stroke-width="1"/>
<text x="280.1" y="406.7" font-size="6.6" font-weight="normal" text-anchor="end" stroke="#000" stroke-width="0.25">0</text>
<line x1="280.2" y1="389.04" x2="282.6" y2="389.04" stroke="#000" stroke-width="1"/>
<text x="280.1" y="391.44" font-size="6.6" font-weight="normal" text-anchor="end" stroke="#000" stroke-width="0.25">5</text>
<line x1="280.2" y1="373.77" x2="282.6" y2="373.77" stroke="#000" stroke-width="1"/>
<text x="280.1" y="376.17" font-size="6.6" font-weight="normal" text-anchor="end" stroke="#000" stroke-width="0.25">10</text>
<line x1="280.2" y1="358.5" x2="282.6" y2="358.5" stroke="#000" stroke-width="1"/>
<text x="280.1" y="360.9" font-size="6.6" font-weight="normal" text-anchor="end" stroke="#000" stroke-width="0.25">15</text>
<line x1="280.2" y1="343.24" x2="282.6" y2="343.24" stroke="#000" stroke-width="1"/>
<text x="280.1" y="345.64" font-size="6.6" font-weight="normal" text-anchor="end" stroke="#000" stroke-width="0.25">20</text>
<line x1="280.2" y1="327.98" x2="282.6" y2="327.98" stroke="#000" stroke-width="1"/>
<text x="280.1" y="330.38" font-size="6.6" font-weight="normal" text-anchor="end" stroke="#000" stroke-width="0.25">25</text>
<line x1="280.2" y1="312.71" x2="282.6" y2="312.71" stroke="#000" stroke-width="1"/>
<text x="280.1" y="315.11" font-size="6.6" font-weight="normal" text-anchor="end" stroke="#000" stroke-width="0.25">30</text>
<line x1="280.2" y1="297.44" x2="282.6" y2="297.44" stroke="#000" stroke-width="1"/>
<text x="280.1" y="299.84" font-size="6.6" font-weight="normal" text-anchor="end" stroke="#000" stroke-width="0.25">35</text>
<line x1="280.2" y1="282.18" x2="282.6" y2="282.18" stroke="#000" stroke-width="1"/>
<text x="280.1" y="284.58" font-size="6.6" font-weight="normal" text-anchor="end" stroke="#000" stroke-width="0.25">40</text>
<line x1="280.2" y1="266.92" x2="282.6" y2="266.92" stroke="#000" stroke-width="1"/>
<text x="280.1" y="269.31" font-size="6.6" font-weight="normal" text-anchor="end" stroke="#000" stroke-width="0.25">45</text>
<line x1="280.2" y1="251.65" x2="282.6" y2="251.65" stroke="#000" stroke-width="1"/>
<text x="280.1" y="254.05" font-size="6.6" font-weight="normal" text-anchor="end" stroke="#000" stroke-width="0.25">50</text>
<line x1="282.6" y1="404.3" x2="282.6" y2="406.6" stroke="#000" stroke-width="1"/>
<text x="282.6" y="413.3" font-size="6.6" font-weight="normal" text-anchor="middle" stroke="#000" stroke-width="0.25">0</text>
<line x1="299.05" y1="404.3" x2="299.05" y2="406.6" stroke="#000" stroke-width="1"/>
<text x="299.05" y="413.3" font-size="6.6" font-weight="normal" text-anchor="middle" stroke="#000" stroke-width="0.25">10</text>
<line x1="315.5" y1="404.3" x2="315.5" y2="406.6" stroke="#000" stroke-width="1"/>
<text x="315.5" y="413.3" font-size="6.6" font-weight="normal" text-anchor="middle" stroke="#000" stroke-width="0.25">20</text>
<line x1="331.95" y1="404.3" x2="331.95" y2="406.6" stroke="#000" stroke-width="1"/>
<text x="331.95" y="413.3" font-size="6.6" font-weight="normal" text-anchor="middle" stroke="#000" stroke-width="0.25">30</text>
<line x1="348.4" y1="404.3" x2="348.4" y2="406.6" stroke="#000" stroke-width="1"/>
<text x="348.4" y="413.3" font-size="6.6" font-weight="normal" text-anchor="middle" stroke="#000" stroke-width="0.25">40</text>
<line x1="364.85" y1="404.3" x2="364.85" y2="406.6" stroke="#000" stroke-width="1"/>
<text x="364.85" y="413.3" font-size="6.6" font-weight="normal" text-anchor="middle" stroke="#000" stroke-width="0.25">50</text>
<line x1="381.3" y1="404.3" x2="381.3" y2="406.6" stroke="#000" stroke-width="1"/>
<text x="381.3" y="413.3" font-size="6.6" font-weight="normal" text-anchor="middle" stroke="#000" stroke-width="0.25">60</text>
<line x1="397.75" y1="404.3" x2="397.75" y2="406.6" stroke="#000" stroke-width="1"/>
<text x="397.75" y="413.3" font-size="6.6" font-weight="normal" text-anchor="middle" stroke="#000" stroke-width="0.25">70</text>
<line x1="414.2" y1="404.3" x2="414.2" y2="406.6" stroke="#000" stroke-width="1"/>
<text x="414.2" y="413.3" font-size="6.6" font-weight="normal" text-anchor="middle" stroke="#000" stroke-width="0.25">80</text>
<line x1="430.65" y1="404.3" x2="430.65" y2="406.6" stroke="#000" stroke-width="1"/>
<text x="430.65" y="413.3" font-size="6.6" font-weight="normal" text-anchor="middle" stroke="#000" stroke-width="0.25">90</text>
<text x="356.5" y="426.6" font-size="8.6" font-weight="bold" text-anchor="middle" textLength="85" lengthAdjust="spacingAndGlyphs" stroke="#000" stroke-width="0.28">Days post transplant</text>
<text x="0" y="0" font-size="8.2" font-weight="bold" text-anchor="middle" transform="translate(256.1 333.3) rotate(-90)" textLength="144.6" lengthAdjust="spacingAndGlyphs" stroke="#000" stroke-width="0.28">% PD1<tspan dy="-3.28" font-size="5.25">hi</tspan><tspan dy="3.28"> or PD1</tspan><tspan dy="-3.28" font-size="5.25">hi</tspan><tspan dy="3.28">Tim3</tspan><tspan dy="-3.77" font-size="5.74">+</tspan><tspan dy="3.77"> among CD8</tspan><tspan dy="-3.77" font-size="5.74">+</tspan></text>
<text x="0" y="0" font-size="8.2" font-weight="bold" text-anchor="middle" transform="translate(266.5 333.9) rotate(-90)" textLength="64.3" lengthAdjust="spacingAndGlyphs" stroke="#000" stroke-width="0.28">T cells (PBMCs)</text>
<polyline points="282.6,401.4 313.86,300.65 330.31,335 364.85,373.56 397.75,391.48 419.13,390.38" fill="none" stroke="#000" stroke-width="1.25" stroke-dasharray="3.2 2.2"/>
<polyline points="282.6,402.01 313.86,329.93 330.31,370.56 364.85,394.23 397.75,401.4 419.13,399.42" fill="none" stroke="#000" stroke-width="1.25"/>
<line x1="313.86" y1="273.63" x2="313.86" y2="327.67" stroke="#222" stroke-width="0.9"/>
<line x1="311.16" y1="273.63" x2="316.56" y2="273.63" stroke="#222" stroke-width="0.9"/>
<line x1="311.16" y1="327.67" x2="316.56" y2="327.67" stroke="#222" stroke-width="0.9"/>
<line x1="330.31" y1="325.84" x2="330.31" y2="344.16" stroke="#222" stroke-width="0.9"/>
<line x1="327.61" y1="325.84" x2="333" y2="325.84" stroke="#222" stroke-width="0.9"/>
<line x1="327.61" y1="344.16" x2="333" y2="344.16" stroke="#222" stroke-width="0.9"/>
<line x1="364.85" y1="370.05" x2="364.85" y2="377.07" stroke="#222" stroke-width="0.9"/>
<line x1="362.15" y1="370.05" x2="367.55" y2="370.05" stroke="#222" stroke-width="0.9"/>
<line x1="362.15" y1="377.07" x2="367.55" y2="377.07" stroke="#222" stroke-width="0.9"/>
<line x1="419.13" y1="386.56" x2="419.13" y2="394.19" stroke="#222" stroke-width="0.9"/>
<line x1="416.44" y1="386.56" x2="421.83" y2="386.56" stroke="#222" stroke-width="0.9"/>
<line x1="416.44" y1="394.19" x2="421.83" y2="394.19" stroke="#222" stroke-width="0.9"/>
<line x1="313.86" y1="306.73" x2="313.86" y2="353.13" stroke="#222" stroke-width="0.9"/>
<line x1="311.16" y1="306.73" x2="316.56" y2="306.73" stroke="#222" stroke-width="0.9"/>
<line x1="311.16" y1="353.13" x2="316.56" y2="353.13" stroke="#222" stroke-width="0.9"/>
<line x1="330.31" y1="361.41" x2="330.31" y2="379.72" stroke="#222" stroke-width="0.9"/>
<line x1="327.61" y1="361.41" x2="333" y2="361.41" stroke="#222" stroke-width="0.9"/>
<line x1="327.61" y1="379.72" x2="333" y2="379.72" stroke="#222" stroke-width="0.9"/>
<circle cx="282.6" cy="401.4" r="2.65"/>
<circle cx="313.86" cy="300.65" r="2.65"/>
<circle cx="330.31" cy="335" r="2.65"/>
<circle cx="364.85" cy="373.56" r="2.65"/>
<circle cx="397.75" cy="391.48" r="2.65"/>
<circle cx="419.13" cy="390.38" r="2.65"/>
<path d="M282.6 399.51L285.2 404.21L280 404.21Z"/>
<path d="M313.86 327.43L316.46 332.13L311.25 332.13Z"/>
<path d="M330.31 368.06L332.91 372.76L327.7 372.76Z"/>
<path d="M364.85 391.73L367.45 396.43L362.25 396.43Z"/>
<path d="M397.75 398.9L400.35 403.6L395.15 403.6Z"/>
<path d="M419.13 396.92L421.74 401.62L416.53 401.62Z"/>
<line x1="366" y1="313.5" x2="373.5" y2="313.5" stroke="#000" stroke-width="1.2"/>
<circle cx="369.7" cy="313.5" r="2.6"/>
<line x1="365.8" y1="326.6" x2="373.8" y2="326.6" stroke="#000" stroke-width="1.2"/>
<path d="M369.8 322.6L370.74 324.91L373.22 325.09L371.32 326.69L371.92 329.11L369.8 327.8L367.68 329.11L368.28 326.69L366.38 325.09L368.86 324.91Z"/>
<text x="377" y="315.9" font-size="7" font-weight="bold" text-anchor="start" textLength="34" lengthAdjust="spacingAndGlyphs" stroke="#000" stroke-width="0.28">CD8<tspan dy="-3.22" font-size="4.9">+</tspan><tspan dy="3.22">PD1</tspan><tspan dy="-2.8" font-size="4.48">hi</tspan></text>
<text x="377" y="328.4" font-size="7" font-weight="bold" text-anchor="start" textLength="55" lengthAdjust="spacingAndGlyphs" stroke="#000" stroke-width="0.28">CD8<tspan dy="-3.22" font-size="4.9">+</tspan><tspan dy="3.22">PD1</tspan><tspan dy="-2.8" font-size="4.48">hi</tspan><tspan dy="2.8"> Tim3</tspan><tspan dy="-3.22" font-size="4.9">+</tspan></text>
</svg>
</body></html>
